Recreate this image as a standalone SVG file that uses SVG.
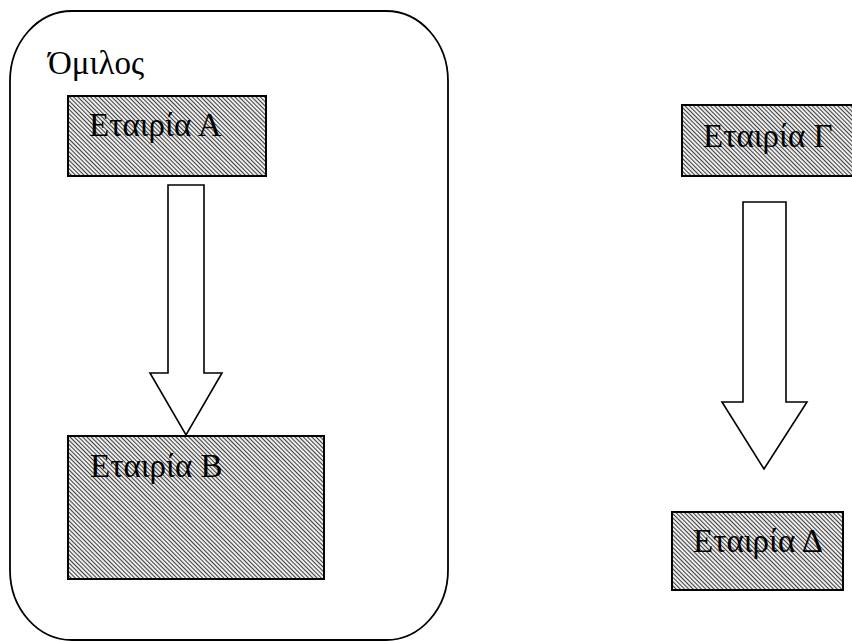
<svg xmlns="http://www.w3.org/2000/svg" width="852" height="641" viewBox="0 0 852 641">
  <defs>
    <pattern id="hatch" patternUnits="userSpaceOnUse" width="3" height="3" patternTransform="rotate(45)">
      <rect width="3" height="3" fill="#ffffff"/>
      <line x1="0" y1="1.5" x2="3" y2="1.5" stroke="#404040" stroke-width="1.2"/>
    </pattern>
  </defs>
  <style>
    .box { fill: url(#hatch); stroke: #000; stroke-width: 2; }
    .group { fill: #fff; stroke: #000; stroke-width: 1.8; }
    .arrow { fill: #fff; stroke: #000; stroke-width: 1.6; stroke-linejoin: miter; }
    .lbl { font-family: "Liberation Serif", "DejaVu Serif", serif; font-size: 33px; fill: #000; }
  </style>
  <rect width="852" height="641" fill="#fff"/>
  <g id="omilos">
    <rect class="group" x="10" y="11" width="438" height="629" rx="62" ry="70"/>
    <text class="lbl" x="48" y="74">Όμιλος</text>
  </g>
  <g id="etairia-a">
    <rect class="box" x="68" y="96" width="198" height="80"/>
    <text class="lbl" x="89" y="136">Εταιρία Α</text>
  </g>
  <g id="etairia-b">
    <rect class="box" x="68" y="436" width="256" height="143"/>
    <text class="lbl" x="90" y="477">Εταιρία Β</text>
  </g>
  <g id="etairia-g">
    <rect class="box" x="682" y="105" width="172" height="71"/>
    <text class="lbl" x="703" y="147">Εταιρία Γ</text>
  </g>
  <g id="etairia-d">
    <rect class="box" x="672" y="512" width="171" height="78"/>
    <text class="lbl" x="693" y="552">Εταιρία Δ</text>
  </g>
  <g id="connectors">
    <polygon class="arrow" points="168,185 204,185 204,373 222,373 186,435 150,373 168,373"/>
    <polygon class="arrow" points="743,202 786,202 786,402 807,402 764,469 722,402 743,402"/>
  </g>
</svg>
